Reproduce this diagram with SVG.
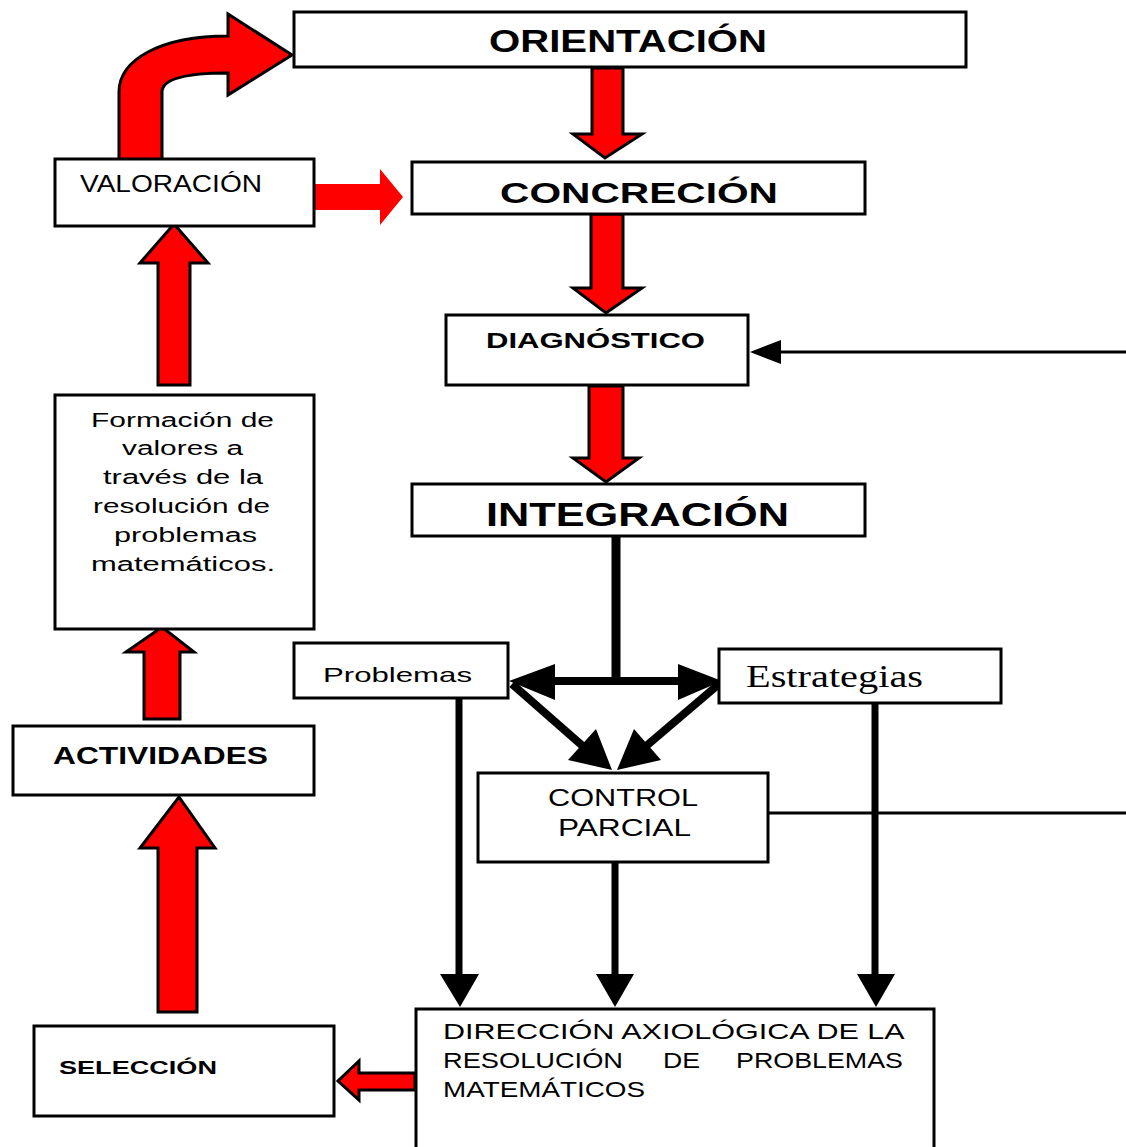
<svg xmlns="http://www.w3.org/2000/svg" width="1126" height="1147" viewBox="0 0 1126 1147">
<style>
.box{fill:#fff;stroke:#000;stroke-width:3}
.red{fill:#ff0000;stroke:#000;stroke-width:3;stroke-linejoin:miter}
.redf{fill:#ff0000}
.ln{stroke:#000;fill:none}
.ah{fill:#000}
.t{font-family:"Liberation Sans",Arial,sans-serif;fill:#000}
.b{font-weight:bold}
.serif{font-family:"Liberation Serif","Times New Roman",serif;fill:#000}
</style>
<rect width="1126" height="1147" fill="#fff"/>
<g id="connectors">
  <!-- curved red arrow VALORACION -> ORIENTACION -->
  <path class="red" d="M119,158 L119,92 C119,60 160,36 228,36 L228,14 L292,55 L228,95 L228,73 C190,73 162,78 162,92 L162,158"/>
  <!-- VALORACION -> CONCRECION -->
  <polygon class="redf" points="315,184 380,184 380,169 403,197 380,225 380,210 315,210"/>
  <!-- Orientacion -> Concrecion -->
  <polygon class="red" points="592,68 623,68 623,134 642,134 605,158 573,134 592,134"/>
  <!-- Concrecion -> Diagnostico -->
  <polygon class="red" points="591,214 623,214 623,288 642,288 606,313 573,288 591,288"/>
  <!-- Diagnostico -> Integracion -->
  <polygon class="red" points="589,386 623,386 623,458 639,458 606,482 573,458 589,458"/>
  <!-- incoming to Diagnostico -->
  <line class="ln" x1="781" y1="352" x2="1126" y2="352" stroke-width="3"/>
  <polygon class="ah" points="750,352 781,340 781,364"/>
  <!-- Integracion split -->
  <line class="ln" x1="616" y1="537" x2="616" y2="681" stroke-width="9"/>
  <line class="ln" x1="553" y1="681" x2="680" y2="681" stroke-width="8"/>
  <polygon class="ah" points="509,681 555,664 555,700"/>
  <polygon class="ah" points="722,681 678,664 678,700"/>
  <!-- diagonals to Control parcial -->
  <line class="ln" x1="512" y1="684" x2="585" y2="748" stroke-width="8"/>
  <polygon class="ah" points="612,770 568,760 596,729"/>
  <line class="ln" x1="719" y1="684" x2="645" y2="747" stroke-width="8"/>
  <polygon class="ah" points="617,770 661,760 634,729"/>
  <!-- Control parcial right line -->
  <line class="ln" x1="769" y1="813" x2="1126" y2="813" stroke-width="3"/>
  <!-- verticals to Direccion -->
  <line class="ln" x1="459" y1="699" x2="459" y2="978" stroke-width="7"/>
  <polygon class="ah" points="440,974 479,974 460,1007"/>
  <line class="ln" x1="615" y1="863" x2="615" y2="978" stroke-width="7"/>
  <polygon class="ah" points="596,974 634,974 615,1007"/>
  <line class="ln" x1="875" y1="704" x2="875" y2="978" stroke-width="7"/>
  <polygon class="ah" points="857,974 895,974 876,1007"/>
  <!-- Direccion -> Seleccion -->
  <polygon class="red" points="415,1073 359,1073 359,1061 338,1081 359,1100 359,1090 415,1090"/>
  <!-- Seleccion -> Actividades -->
  <polygon class="red" points="158,1012 197,1012 197,848 215,848 179,797 140,848 158,848"/>
  <!-- Actividades -> Formacion -->
  <polygon class="red" points="144,719 180,719 180,652 194,652 162,627 126,652 144,652"/>
  <!-- Formacion -> Valoracion -->
  <polygon class="red" points="158,385 190,385 190,263 208,263 174,224 140,263 158,263"/>
</g>
<g id="orientacion">
  <rect class="box" x="294" y="12" width="672" height="55"/>
  <text class="t b" x="489" y="52" font-size="32" textLength="278" lengthAdjust="spacingAndGlyphs">ORIENTACIÓN</text>
</g>
<g id="concrecion">
  <rect class="box" x="412" y="162" width="453" height="52"/>
  <text class="t b" x="500" y="203" font-size="29" textLength="278" lengthAdjust="spacingAndGlyphs">CONCRECIÓN</text>
</g>
<g id="diagnostico">
  <rect class="box" x="446" y="315" width="302" height="70"/>
  <text class="t b" x="486" y="348" font-size="22" textLength="219" lengthAdjust="spacingAndGlyphs">DIAGNÓSTICO</text>
</g>
<g id="integracion">
  <rect class="box" x="412" y="484" width="453" height="52"/>
  <text class="t b" x="486" y="526" font-size="33" textLength="303" lengthAdjust="spacingAndGlyphs">INTEGRACIÓN</text>
</g>
<g id="problemas">
  <rect class="box" x="294" y="643" width="214" height="55"/>
  <text class="t" x="323" y="682" font-size="21" textLength="149" lengthAdjust="spacingAndGlyphs">Problemas</text>
</g>
<g id="estrategias">
  <rect class="box" x="719" y="649" width="282" height="54"/>
  <text class="serif" x="746" y="687" font-size="32" textLength="177" lengthAdjust="spacingAndGlyphs">Estrategias</text>
</g>
<g id="control">
  <rect class="box" x="478" y="773" width="290" height="89"/>
  <text class="t" x="548" y="806" font-size="23" textLength="150" lengthAdjust="spacingAndGlyphs">CONTROL</text>
  <text class="t" x="558" y="836" font-size="23" textLength="133" lengthAdjust="spacingAndGlyphs">PARCIAL</text>
</g>
<g id="direccion">
  <rect class="box" x="416" y="1009" width="518" height="150" stroke-width="4"/>
  <text class="t" font-size="22">
    <tspan x="443" y="1039" textLength="460" lengthAdjust="spacingAndGlyphs">DIRECCIÓN AXIOLÓGICA DE LA</tspan>
    <tspan x="443" y="1068" textLength="180" lengthAdjust="spacingAndGlyphs">RESOLUCIÓN</tspan>
    <tspan x="663" y="1068" textLength="37" lengthAdjust="spacingAndGlyphs">DE</tspan>
    <tspan x="736" y="1068" textLength="167" lengthAdjust="spacingAndGlyphs">PROBLEMAS</tspan>
    <tspan x="443" y="1097" textLength="202" lengthAdjust="spacingAndGlyphs">MATEMÁTICOS</tspan>
  </text>
</g>
<g id="seleccion">
  <rect class="box" x="34" y="1026" width="300" height="90"/>
  <text class="t b" x="59" y="1074" font-size="19" textLength="158" lengthAdjust="spacingAndGlyphs">SELECCIÓN</text>
</g>
<g id="actividades">
  <rect class="box" x="13" y="726" width="301" height="69"/>
  <text class="t b" x="53" y="764" font-size="23" textLength="215" lengthAdjust="spacingAndGlyphs">ACTIVIDADES</text>
</g>
<g id="formacion">
  <rect class="box" x="55" y="395" width="259" height="234"/>
  <text class="t" font-size="20">
    <tspan x="91" y="427" textLength="183" lengthAdjust="spacingAndGlyphs">Formación de</tspan>
    <tspan x="122" y="455" textLength="121" lengthAdjust="spacingAndGlyphs">valores a</tspan>
    <tspan x="103" y="484" textLength="160" lengthAdjust="spacingAndGlyphs">través de la</tspan>
    <tspan x="93" y="513" textLength="177" lengthAdjust="spacingAndGlyphs">resolución de</tspan>
    <tspan x="114" y="542" textLength="143" lengthAdjust="spacingAndGlyphs">problemas</tspan>
    <tspan x="91" y="571" textLength="184" lengthAdjust="spacingAndGlyphs">matemáticos.</tspan>
  </text>
</g>
<g id="valoracion">
  <rect class="box" x="55" y="159" width="259" height="67"/>
  <text class="t" x="80" y="192" font-size="23" textLength="182" lengthAdjust="spacingAndGlyphs">VALORACIÓN</text>
</g>
</svg>
